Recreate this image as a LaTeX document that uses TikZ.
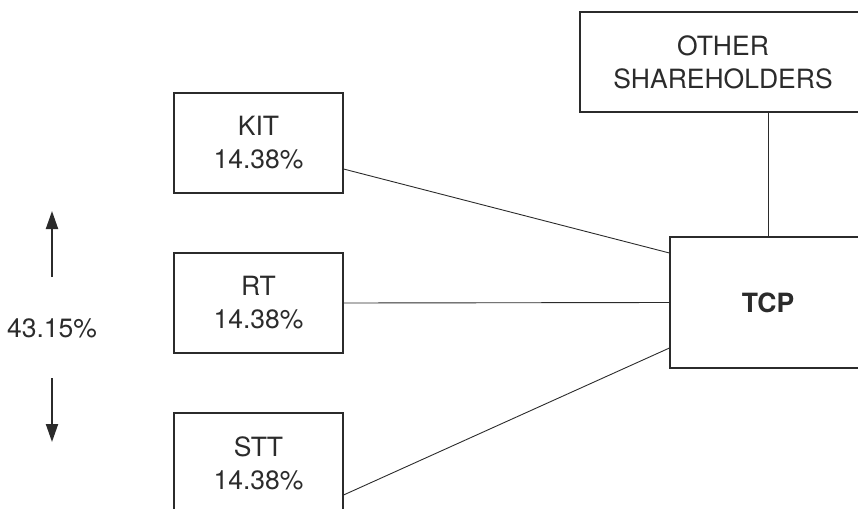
\documentclass[tikz,border=0pt]{standalone}
\usepackage{fontspec}
\setmainfont{TeX Gyre Heros}
\usetikzlibrary{arrows.meta,calc}
\definecolor{ink}{HTML}{2B2B2B}
\begin{document}
\begin{tikzpicture}[x=1pt,y=-1pt,
  box/.style={draw=ink,line width=1.1pt,text=ink,align=center,inner sep=0pt,
    font=\fontsize{26.5}{33}\selectfont},
  link/.style={draw=ink,line width=0.9pt},
  bigarrow/.style={draw=ink,line width=2pt,-{Triangle[width=12pt,length=18pt]}}]
\useasboundingbox (0,0) rectangle (858,508);
\clip (0,0) rectangle (858,508);
\node[box,minimum width=169pt,minimum height=100pt] (KIT) at (258.5,143) {KIT\\14.38\%};
\node[box,minimum width=169pt,minimum height=100pt] (RT) at (258.5,303) {RT\\14.38\%};
\node[box,minimum width=169pt,minimum height=100pt] (STT) at (258.5,463) {STT\\14.38\%};
\node[box,minimum width=286pt,minimum height=100pt] (OTH) at (723,62) {OTHER\\SHAREHOLDERS};
\node[box,minimum width=196pt,minimum height=131pt,font=\fontsize{26.5}{33}\selectfont\bfseries] (TCP) at (768,302.5) {TCP};
\node[text=ink,font=\fontsize{26.5}{33}\selectfont,inner sep=0pt] (pct) at (52,328) {43.15\%};
\coordinate (upS) at (52,277);
\coordinate (upE) at (52,211);
\coordinate (dnS) at (52,378);
\coordinate (dnE) at (52,442);
\draw[bigarrow] (upS) -- (upE);
\draw[bigarrow] (dnS) -- (dnE);
\draw[link] ($(KIT.east)+(0,26)$) -- ($(TCP.west)+(0,-49.5)$);
\draw[link] (RT.east) -- (TCP.west);
\draw[link] ($(STT.east)+(0,32)$) -- ($(TCP.west)+(0,45.5)$);
\draw[link] (TCP.north) -- (TCP.north |- OTH.south);
\end{tikzpicture}
\end{document}
